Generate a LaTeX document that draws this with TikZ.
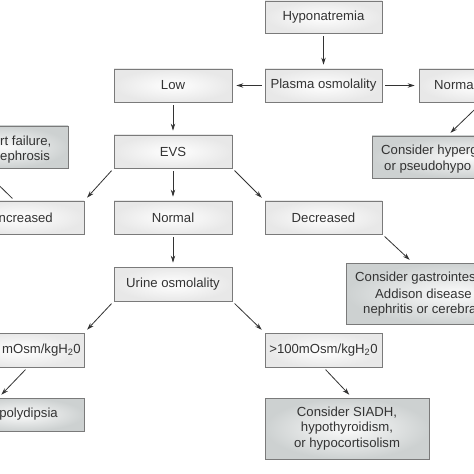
\documentclass[tikz,border=0pt]{standalone}
\usepackage{fontspec}
\setmainfont{Liberation Sans}
\usetikzlibrary{arrows.meta}
\definecolor{boxborder}{HTML}{7A7A7A}
\definecolor{plainfill}{HTML}{E8E8E8}
\definecolor{considerfill}{HTML}{CDD1D1}
\definecolor{textcol}{HTML}{333333}
\definecolor{arrowcol}{HTML}{333333}
\newcommand{\fs}{\fontsize{13.2}{15.8}\selectfont}
\tikzset{
  box/.style={draw=boxborder, line width=0.8bp, inner sep=0pt, inner color=white, outer color=plainfill, font=\fs, text=textcol, align=center},
  considerbox/.style={box, inner color=white!92!considerfill, outer color=considerfill},
  txt/.style={inner sep=0pt, font=\fs, text=textcol, align=left},
  arr/.style={draw=arrowcol, line width=0.8bp, -{Stealth[length=7bp,width=4.5bp]}, shorten <=3bp, shorten >=4bp}
}
\begin{document}
\begin{tikzpicture}[x=1bp,y=-1bp]
\useasboundingbox (0,0) rectangle (474,474);
\clip (0,0) rectangle (474,474);
\fill[white] (0,0) rectangle (474,474);
% main column
\node[box, minimum width=117bp, minimum height=32bp] (hypo) at (323.5,17) {Hyponatremia};
\node[box, minimum width=117bp, minimum height=33bp] (plasma) at (323.5,85.5) {Plasma osmolality};
\node[box, minimum width=118bp, minimum height=33bp] (low) at (173,85.5) {Low};
\node[box, minimum width=117bp, minimum height=33bp] (normr) at (477.5,85.5) {};
\node[txt, anchor=west] (normrt) at (434,85.5) {Norma};
\node[box, minimum width=118bp, minimum height=33bp] (evs) at (173,151.5) {EVS};
% left heart failure box
\node[considerbox, minimum width=128bp, minimum height=42bp] (hf) at (4,147) {};
\node[txt, anchor=west] (hft) at (0,149.5) {rt failure,\\ephrosis};
% hyperglycaemia box
\node[considerbox, minimum width=200bp, minimum height=42bp] (hyperg) at (472,157) {};
\node[txt, anchor=west] (hyp1) at (381,151) {Consider hyperg};
\node[txt, anchor=west] (hyp2) at (384,167) {or pseudohypo};
% EVS row
\node[box, minimum width=124bp, minimum height=33bp] (inc) at (22,217.5) {};
\node[txt, anchor=east] (inct) at (53,217.5) {ncreased};
\node[box, minimum width=118bp, minimum height=33bp] (normm) at (173,217.5) {Normal};
\node[box, minimum width=117bp, minimum height=33bp] (dec) at (323.5,217.5) {Decreased};
% urine
\node[box, minimum width=118bp, minimum height=34bp] (urine) at (173,284) {Urine osmolality};
% gastro box
\node[considerbox, minimum width=220bp, minimum height=61bp] (gastro) at (456,293.5) {};
\node[txt, anchor=west] (gas1) at (355,278) {Consider gastrointes};
\node[txt, anchor=west] (gas2) at (375,294) {Addison disease};
\node[txt, anchor=west] (gas3) at (363,310) {nephritis or cerebra};
% osmolality rows
\node[box, minimum width=124bp, minimum height=34bp] (lt) at (22,350) {};
\node[txt, anchor=east] (ltt) at (81,350) {mOsm/kgH\textsubscript{2}0};
\node[box, minimum width=117bp, minimum height=34bp] (gt) at (323.5,350) {>100mOsm/kgH\textsubscript{2}0};
\node[considerbox, minimum width=124bp, minimum height=33bp] (poly) at (22,414.5) {};
\node[txt, anchor=east] (polyt) at (58,414.5) {polydipsia};
\node[considerbox, minimum width=164bp, minimum height=61bp] (siadh) at (347,428.5) {Consider SIADH,\\hypothyroidism,\\or hypocortisolism};
% connectors
\draw[arr] (hypo) -- (plasma);
\draw[arr] (plasma) -- (low);
\draw[arr] (plasma) -- (normr);
\draw[arr] (low) -- (evs);
\draw[arr] ([xshift=4.5bp]normr.south) -- ([xshift=76bp]hyperg.north west);
\draw[arr] (evs.south west) -- (inc.north east);
\draw[arr] (evs) -- (normm);
\draw[arr] (evs.south east) -- (dec.north west);
\draw[arr] ([xshift=55bp]inc.north west) -- ([xshift=42bp]hf.south west);
\draw[arr] (normm) -- (urine);
\draw[arr] (dec.south east) -- ([xshift=67bp]gastro.north west);
\draw[arr] (urine.south west) -- (lt.north east);
\draw[arr] (urine.south east) -- (gt.north west);
\draw[arr] ([xshift=68bp]lt.south west) -- ([xshift=39bp]poly.north west);
\draw[arr] (gt.south) -- ([xshift=5bp]siadh.north);
\end{tikzpicture}
\end{document}
